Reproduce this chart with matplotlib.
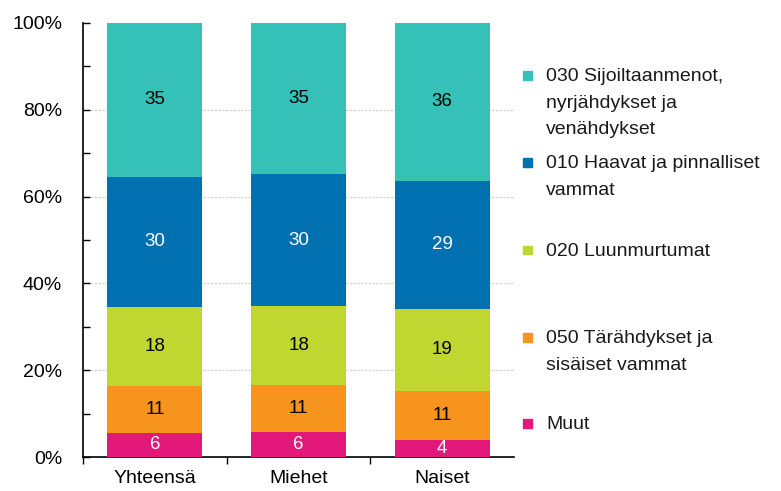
import matplotlib
matplotlib.use("Agg")
import matplotlib.pyplot as plt
from matplotlib.patches import Rectangle
from matplotlib.ticker import MultipleLocator, FixedLocator, NullFormatter
import numpy as np

plt.rcParams['font.family'] = ['Liberation Sans', 'DejaVu Sans']

categories = ["Yhteensä", "Miehet", "Naiset"]
series_names = ["Muut", "050 Tärähdykset ja\nsisäiset vammat", "020 Luunmurtumat",
                "010 Haavat ja pinnalliset\nvammat",
                "030 Sijoiltaanmenot,\nnyrjähdykset ja\nvenähdykset"]
muut = [5.6, 5.7, 3.9]
s050 = [10.8, 11.0, 11.4]
s020 = [18.2, 18.2, 18.9]
s010 = [30.0, 30.2, 29.4]
s030 = [35.4, 34.9, 36.4]
series = [muut, s050, s020, s010, s030]
colors = ["#E2197A", "#F7941D", "#BFD730", "#0070B0", "#35C0B8"]
label_colors = ["white", "black", "black", "white", "black"]
ytick_labels = ["0%", "20%", "40%", "60%", "80%", "100%"]

fig = plt.figure(figsize=(7.81, 4.91), dpi=100)
ax = fig.add_axes([0.1063, 0.0692, 0.552, 0.884])

x = np.arange(len(categories))
bottom = np.zeros(len(categories))
for vals, col, lc in zip(series, colors, label_colors):
    vals = np.array(vals)
    ax.bar(x, vals, bottom=bottom, width=0.66, color=col, zorder=3)
    for xi, v, b in zip(x, vals, bottom):
        ax.text(xi, b + v / 2, f"{v:.0f}", ha="center", va="center",
                color=lc, fontsize=13.5, zorder=4)
    bottom += vals

ax.set_xlim(-0.5, 2.5)
ax.set_ylim(0, 100)

ax.yaxis.set_major_locator(FixedLocator([0, 20, 40, 60, 80, 100]))
ax.set_yticklabels(ytick_labels)
ax.yaxis.set_minor_locator(MultipleLocator(10))
ax.tick_params(axis="y", which="both", direction="in", length=5, width=1,
               labelsize=14, pad=15)

ax.set_xticks(x)
ax.set_xticklabels(categories)
ax.xaxis.set_minor_locator(FixedLocator([-0.5, 0.5, 1.5]))
ax.xaxis.set_minor_formatter(NullFormatter())
ax.tick_params(axis="x", which="major", length=0, labelsize=14, pad=9)
ax.tick_params(axis="x", which="minor", direction="out", length=5, width=1)

for yv in [20, 40, 60, 80]:
    ax.axhline(yv, color="#d4d4d4", linewidth=0.9, linestyle=(0, (2, 1)), zorder=1)

for s in ["top", "right"]:
    ax.spines[s].set_visible(False)
for s in ["left", "bottom"]:
    ax.spines[s].set_linewidth(1.2)
    ax.spines[s].set_color("black")

# Legend (manual, top entry first)
legend_y = [75, 162, 250, 337, 423]  # first-line centers in pixels from top
order = [4, 3, 2, 1, 0]
H = 491.0
W = 781.0
for ypix, idx in zip(legend_y, order):
    yf = 1 - ypix / H
    sq = 9
    fig.patches.append(Rectangle((523 / W, yf - sq / 2 / H), sq / W, sq / H,
                                 transform=fig.transFigure, color=colors[idx]))
    fig.text(546 / W, yf + 7 / H, series_names[idx], ha="left", va="top",
             fontsize=14, linespacing=1.75, color="#1a1a1a")

fig.savefig("out.png", dpi=100)
